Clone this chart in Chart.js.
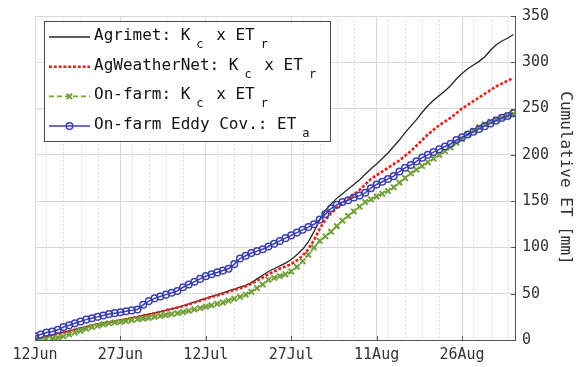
<!DOCTYPE html>
<html>
<head>
<meta charset="utf-8">
<title>Cumulative ET</title>
<script src="https://cdn.jsdelivr.net/npm/chart.js@4.4.1/dist/chart.umd.min.js"></script>
<style>
  html, body { margin: 0; padding: 0; background: #fff; }
  #wrap { width: 581px; height: 367px; }
</style>
</head>
<body>
<div id="wrap"><canvas id="etChart" width="581" height="367"></canvas></div>
<script>
// Daily cumulative ET [mm], one value per day starting 12 Jun
const agrimet = [
  1, 2.5, 4, 5.5, 7, 8.5, 10, 11.5, 13, 14.5,
  16, 17, 18.5, 19.5, 20.5, 21.5, 22.5, 24, 25, 26.5,
  28, 29, 30.5, 32, 33.5, 35, 37, 39, 41, 43,
  45, 47, 49, 51, 53, 55, 57, 59, 62, 66,
  70, 74, 77, 80, 83, 87, 92, 98, 106, 117,
  130, 140, 147, 153, 158, 163, 168, 173, 179, 185,
  190, 196, 202, 209, 216, 224, 231, 238, 246, 253,
  259, 264, 269, 275, 282, 288, 293, 297, 301, 306,
  313, 319, 323, 326, 330
];
const agWeatherNet = [
  0.5, 2, 3.5, 5, 6.5, 8, 9.5, 11, 12.5, 14,
  15.5, 17, 18, 19, 20, 21, 22.5, 24, 25, 26.5,
  27.5, 29, 30.5, 32, 33.5, 35, 36.5, 38.5, 40.5, 42.5,
  44.5, 46.5, 48, 50, 52, 54, 56, 58, 61, 64,
  67.5, 71, 74, 77, 79.5, 82, 86, 91, 98, 108,
  120, 130, 137, 143, 148, 152, 157, 162, 168, 174,
  178, 182, 186, 190, 194, 199, 204, 210, 216, 222,
  227, 232, 236, 240, 245, 250, 254, 258, 262, 266,
  270, 274, 277, 280, 283
];
const onFarm = [
  0, 0.5, 1, 1.5, 2.5, 4, 6, 8, 10, 12,
  14, 15.5, 17, 18, 19, 19.5, 20.5, 21.5, 22.5, 23,
  24, 25, 26, 27, 28, 29, 30, 31.5, 33, 34.5,
  36, 37.5, 39, 40.5, 42.5, 44.5, 46.5, 49, 52, 56,
  60, 65, 67, 69, 71, 74, 79, 85, 92, 100,
  107, 112, 117, 123, 129, 134, 139, 144, 149, 152,
  155, 158, 161, 165, 170, 175, 180, 184, 188, 192,
  196, 200, 204, 208, 213, 217, 222, 226, 230, 233,
  236, 238, 240, 242, 244
];
const eddyCov = [
  4, 6, 8, 9, 11, 14, 16, 18, 20, 22,
  23.5, 25, 26.5, 28, 29, 30, 31, 32, 33, 38,
  42, 45, 47, 49, 51, 53, 57, 60, 63, 66,
  69, 71, 73, 75, 77, 82, 88, 91, 94, 96,
  98, 101, 104, 107, 110, 113, 116, 119, 122, 125,
  130, 136, 142, 146, 149, 151, 154, 156, 159, 164,
  168, 171, 174, 177, 182, 186, 189, 193, 197, 200,
  203, 206, 209, 212, 216, 219, 222, 225, 228, 231,
  234, 237, 240, 242, 245
];

// x axis: days since 12 Jun
const tickDays = [0, 15, 30, 45, 60, 75];
const tickLabels = ['12Jun', '27Jun', '12Jul', '27Jul', '11Aug', '26Aug'];
const minorDays = [2, 5, 8, 11, 17, 20, 23, 26, 32, 35, 38, 41, 47, 50, 53, 56, 62, 65, 68, 71, 77, 80, 83];
const yTicks = [0, 50, 100, 150, 200, 250, 300, 350];
const yTitle = 'Cumulative ET [mm]';

// legend text pieces: [text, isSubscript]
const legendAgrimet = [['Agrimet: K', 0], ['c', 1], [' x ET', 0], ['r', 1]];
const legendAWN = [['AgWeatherNet: K', 0], ['c', 1], [' x ET', 0], ['r', 1]];
const legendOnFarm = [['On-farm: K', 0], ['c', 1], [' x ET', 0], ['r', 1]];
const legendEddy = [['On-farm Eddy Cov.: ET', 0], ['a', 1]];

const FONT = "'DejaVu Sans Mono', 'Liberation Mono', monospace";
const toXY = arr => arr.map((v, i) => ({ x: i, y: v }));

const datasets = [
  {
    data: toXY(agrimet), borderColor: '#262626', borderWidth: 1.3,
    pointRadius: 0, order: 4, legendText: legendAgrimet
  },
  {
    data: toXY(agWeatherNet), borderColor: '#e5211d', borderWidth: 2.6,
    borderDash: [3, 1.8], pointRadius: 0, order: 3, legendText: legendAWN
  },
  {
    data: toXY(onFarm), borderColor: '#74a03a', borderWidth: 1.6,
    borderDash: [5, 3], pointStyle: 'crossRot', pointRadius: 3.8,
    pointBorderWidth: 2, pointBorderColor: '#74a03a', order: 2, legendText: legendOnFarm
  },
  {
    data: toXY(eddyCov), borderColor: '#3b3eb0', borderWidth: 1.5,
    pointStyle: 'circle', pointRadius: 3.3, pointBorderWidth: 1.5,
    pointBorderColor: '#3b3eb0', pointBackgroundColor: 'rgba(0,0,0,0)', order: 1, legendText: legendEddy
  }
];

// dashed minor grid lines behind the data
const minorGrid = {
  id: 'minorGrid',
  beforeDatasetsDraw(chart) {
    const { ctx, chartArea, scales: { x } } = chart;
    ctx.save();
    ctx.strokeStyle = '#dedede';
    ctx.lineWidth = 1;
    ctx.setLineDash([2, 2]);
    minorDays.forEach(d => {
      const px = Math.round(x.getPixelForValue(d)) + 0.5;
      ctx.beginPath();
      ctx.moveTo(px, chartArea.top);
      ctx.lineTo(px, chartArea.bottom);
      ctx.stroke();
    });
    ctx.restore();
  }
};

// short inward tick marks on the bottom and right axes
const innerTicks = {
  id: 'innerTicks',
  afterDatasetsDraw(chart) {
    const { ctx, chartArea, scales: { x, y } } = chart;
    ctx.save();
    ctx.strokeStyle = '#555';
    ctx.lineWidth = 1;
    tickDays.forEach(d => {
      const px = Math.round(x.getPixelForValue(d)) + 0.5;
      ctx.beginPath();
      ctx.moveTo(px, chartArea.bottom);
      ctx.lineTo(px, chartArea.bottom - 4);
      ctx.stroke();
    });
    yTicks.forEach(v => {
      const py = Math.round(y.getPixelForValue(v)) + 0.5;
      ctx.beginPath();
      ctx.moveTo(chartArea.right, py);
      ctx.lineTo(chartArea.right - 4, py);
      ctx.stroke();
    });
    ctx.restore();
  }
};

// boxed legend with subscripts
const boxLegend = {
  id: 'boxLegend',
  afterDraw(chart) {
    const ctx = chart.ctx;
    ctx.save();
    ctx.fillStyle = '#fff';
    ctx.fillRect(44.5, 21.5, 286, 120);
    ctx.strokeStyle = '#4a4a4a';
    ctx.lineWidth = 1;
    ctx.strokeRect(44.5, 21.5, 286, 120);

    chart.data.datasets.forEach((ds, i) => {
      const ly = 37 + i * 29.7;
      ctx.strokeStyle = ds.borderColor;
      ctx.lineWidth = ds.borderWidth;
      ctx.setLineDash(ds.borderDash || []);
      ctx.beginPath();
      ctx.moveTo(49, ly);
      ctx.lineTo(90, ly);
      ctx.stroke();
      ctx.setLineDash([]);
      if (ds.pointRadius) {
        ctx.strokeStyle = ds.pointBorderColor;
        ctx.fillStyle = ds.pointBackgroundColor || ds.pointBorderColor;
        ctx.lineWidth = ds.pointBorderWidth;
        Chart.helpers.drawPoint(ctx, {
          pointStyle: ds.pointStyle, radius: ds.pointRadius,
          borderWidth: ds.pointBorderWidth, rotation: 0
        }, 69.5, ly);
      }

      ctx.fillStyle = '#111';
      ctx.textBaseline = 'alphabetic';
      ctx.textAlign = 'left';
      let tx = 94;
      ds.legendText.forEach(([t, sub]) => {
        if (sub) {
          ctx.font = '12px ' + FONT;
          tx += 6;
          ctx.fillText(t, tx, ly + 11);
          tx += ctx.measureText(t).width + 3;
        } else {
          ctx.font = '16px ' + FONT;
          ctx.fillText(t, tx, ly + 3);
          tx += ctx.measureText(t).width;
        }
      });
    });
    ctx.restore();
  }
};

new Chart(document.getElementById('etChart'), {
  type: 'line',
  data: { datasets },
  options: {
    responsive: false,
    animation: false,
    layout: { padding: { left: 35, top: 10, right: 0, bottom: 0 } },
    plugins: { legend: { display: false }, tooltip: { enabled: false } },
    elements: { line: { tension: 0 } },
    scales: {
      x: {
        type: 'linear',
        min: 0,
        max: 84.3,
        afterBuildTicks: s => { s.ticks = tickDays.map(v => ({ value: v })); },
        afterFit: s => { s.height = 27; },
        ticks: {
          autoSkip: false,
          maxRotation: 0,
          padding: 6,
          color: '#333',
          font: { family: FONT, size: 15 },
          callback: v => tickLabels[tickDays.indexOf(v)]
        },
        grid: { color: '#d9d9d9', drawTicks: false },
        border: { color: '#555', width: 1 }
      },
      y: {
        position: 'right',
        min: 0,
        max: 350,
        afterBuildTicks: s => { s.ticks = yTicks.map(v => ({ value: v })); },
        afterFit: s => { s.width = 66; },
        ticks: {
          padding: 7,
          color: '#333',
          font: { family: FONT, size: 15 }
        },
        grid: { color: '#d9d9d9', drawTicks: false },
        border: { color: '#555', width: 1 },
        title: {
          display: true,
          text: yTitle,
          color: '#333',
          font: { family: FONT, size: 16 },
          padding: { top: 6, bottom: 0 }
        }
      }
    }
  },
  plugins: [minorGrid, innerTicks, boxLegend]
});
</script>
</body>
</html>
